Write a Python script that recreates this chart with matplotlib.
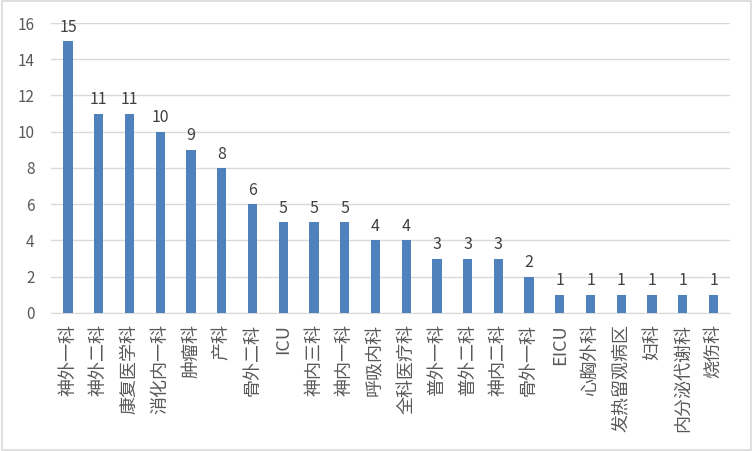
import matplotlib
matplotlib.use("Agg")
import matplotlib.pyplot as plt
from matplotlib.patches import Rectangle

plt.rcParams["font.family"] = ["Noto Sans CJK SC", "DejaVu Sans"]

departments = ["神外一科", "神外二科", "康复医学科", "消化内一科", "肿瘤科", "产科",
               "骨外二科", "ICU", "神内三科", "神内一科", "呼吸内科", "全科医疗科",
               "普外一科", "普外二科", "神内二科", "骨外一科", "EICU", "心胸外科",
               "发热留观病区", "妇科", "内分泌代谢科", "烧伤科"]
counts = [15, 11, 11, 10, 9, 8, 6, 5, 5, 5, 4, 4, 3, 3, 3, 2, 1, 1, 1, 1, 1, 1]

fig = plt.figure(figsize=(7.53, 4.51), dpi=100)
ax = fig.add_axes([0.068, 0.306, 0.902, 0.643])

xs = range(len(departments))
ax.bar(xs, counts, width=0.3, color="#4F81BD", zorder=3)
for x, v in zip(xs, counts):
    ax.text(x, v + 0.3, str(v), ha="center", va="bottom",
            fontsize=11.5, color="#404040")

ax.set_xlim(-0.55, len(departments) - 0.45)
ax.set_ylim(0, 16)
ax.set_yticks(range(0, 17, 2))
ax.set_xticks(list(xs))
ax.set_xticklabels(departments, rotation=90, fontsize=13, color="#595959")
ax.tick_params(axis="y", labelsize=11, labelcolor="#595959", length=0, pad=12)
ax.tick_params(axis="x", length=0, pad=8)
ax.grid(axis="y", color="#D9D9D9", linewidth=1, zorder=0)
for s in ["top", "right", "left"]:
    ax.spines[s].set_visible(False)
ax.spines["bottom"].set_color("#D9D9D9")

fig.patches.append(Rectangle((0.002, 0.003), 0.995, 0.994, transform=fig.transFigure,
                             fill=False, edgecolor="#D9D9D9", linewidth=1.2))

fig.savefig("out.png", dpi=100)
